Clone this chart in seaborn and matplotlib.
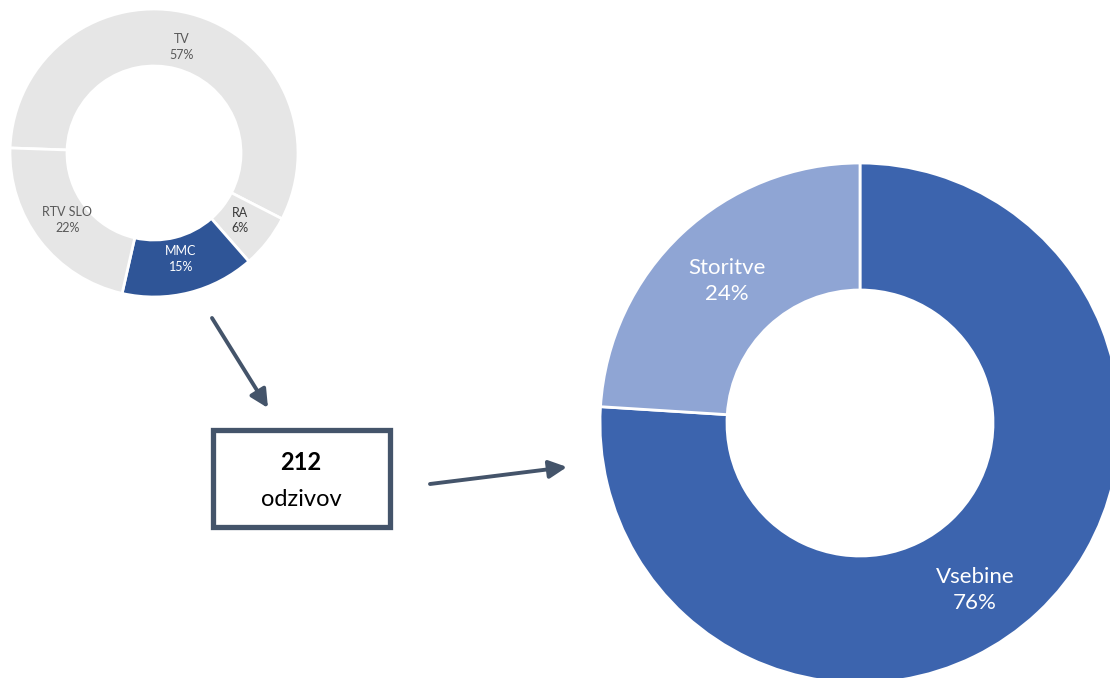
import matplotlib
matplotlib.use("Agg")
import matplotlib.pyplot as plt
import seaborn as sns
from matplotlib.patches import Rectangle

sns.set_theme(style="white")
plt.rcParams["font.family"] = ["Lato", "DejaVu Sans"]

# small donut: share by channel
channel_names = ["TV", "RA", "MMC", "RTV SLO"]
channel_share = [57, 6, 15, 22]
channel_colors = ["#E6E6E6", "#E6E6E6", "#2F5597", "#E6E6E6"]
channel_text = ["#595959", "#3A3A3A", "white", "#595959"]

# big donut: type of response
topic_names = ["Vsebine", "Storitve"]
topic_share = [76, 24]
topic_colors = ["#3C64AE", "#8FA5D4"]

total_label = "212"
total_unit = "odzivov"

W, H = 1110, 678
DARK = "#44546A"


def fy(y):
    # image-pixel y (down) to axes y (up)
    return H - y


def donut(ax, values, names, colors, text_colors, cx, cy, r_out, r_in, start, fsize, pdist):
    idx = iter(range(len(values)))
    wedges, _, autotexts = ax.pie(
        values, colors=colors, center=(cx, fy(cy)), radius=r_out,
        startangle=start, counterclock=False, frame=True,
        autopct=lambda p: f"{names[next(idx)]}\n{p:.0f}%",
        pctdistance=pdist,
        wedgeprops=dict(width=r_out - r_in, edgecolor="white", linewidth=2),
        textprops=dict(fontsize=fsize, linespacing=1.35),
    )
    for t, c in zip(autotexts, text_colors):
        t.set_color(c)
    return autotexts


fig = plt.figure(figsize=(W / 100, H / 100), dpi=100)
ax = fig.add_axes([0, 0, 1, 1])

donut(ax, channel_share, channel_names, channel_colors, channel_text,
      154, 153, 144, 87, 178, 9, 0.76)
big_texts = donut(ax, topic_share, topic_names, topic_colors, ["white", "white"],
                  860, 423, 260, 133, 90, 16, 0.75)
# Excel-style nudge of the Vsebine label
big_texts[0].set_position((975, fy(590)))

# arrows
arrow_kw = dict(arrowstyle="-|>,head_length=0.9,head_width=0.45", color=DARK,
                lw=2.8, shrinkA=0, shrinkB=0)
ax.annotate("", xy=(268, fy(408)), xytext=(212, fy(318)), arrowprops=arrow_kw)
ax.annotate("", xy=(567, fy(467)), xytext=(430, fy(484)), arrowprops=arrow_kw)

# total box
ax.add_patch(Rectangle((213, fy(527)), 177, 97, fill=False, edgecolor=DARK, lw=3.8))
ax.text(301, fy(462), total_label, ha="center", va="center", fontsize=17,
        fontweight="bold", color="black")
ax.text(301, fy(499), total_unit, ha="center", va="center", fontsize=17, color="black")

ax.set_xlim(0, W)
ax.set_ylim(0, H)
ax.set_aspect("equal")
ax.axis("off")

fig.savefig("out.png", dpi=100, facecolor="white")
plt.close(fig)
